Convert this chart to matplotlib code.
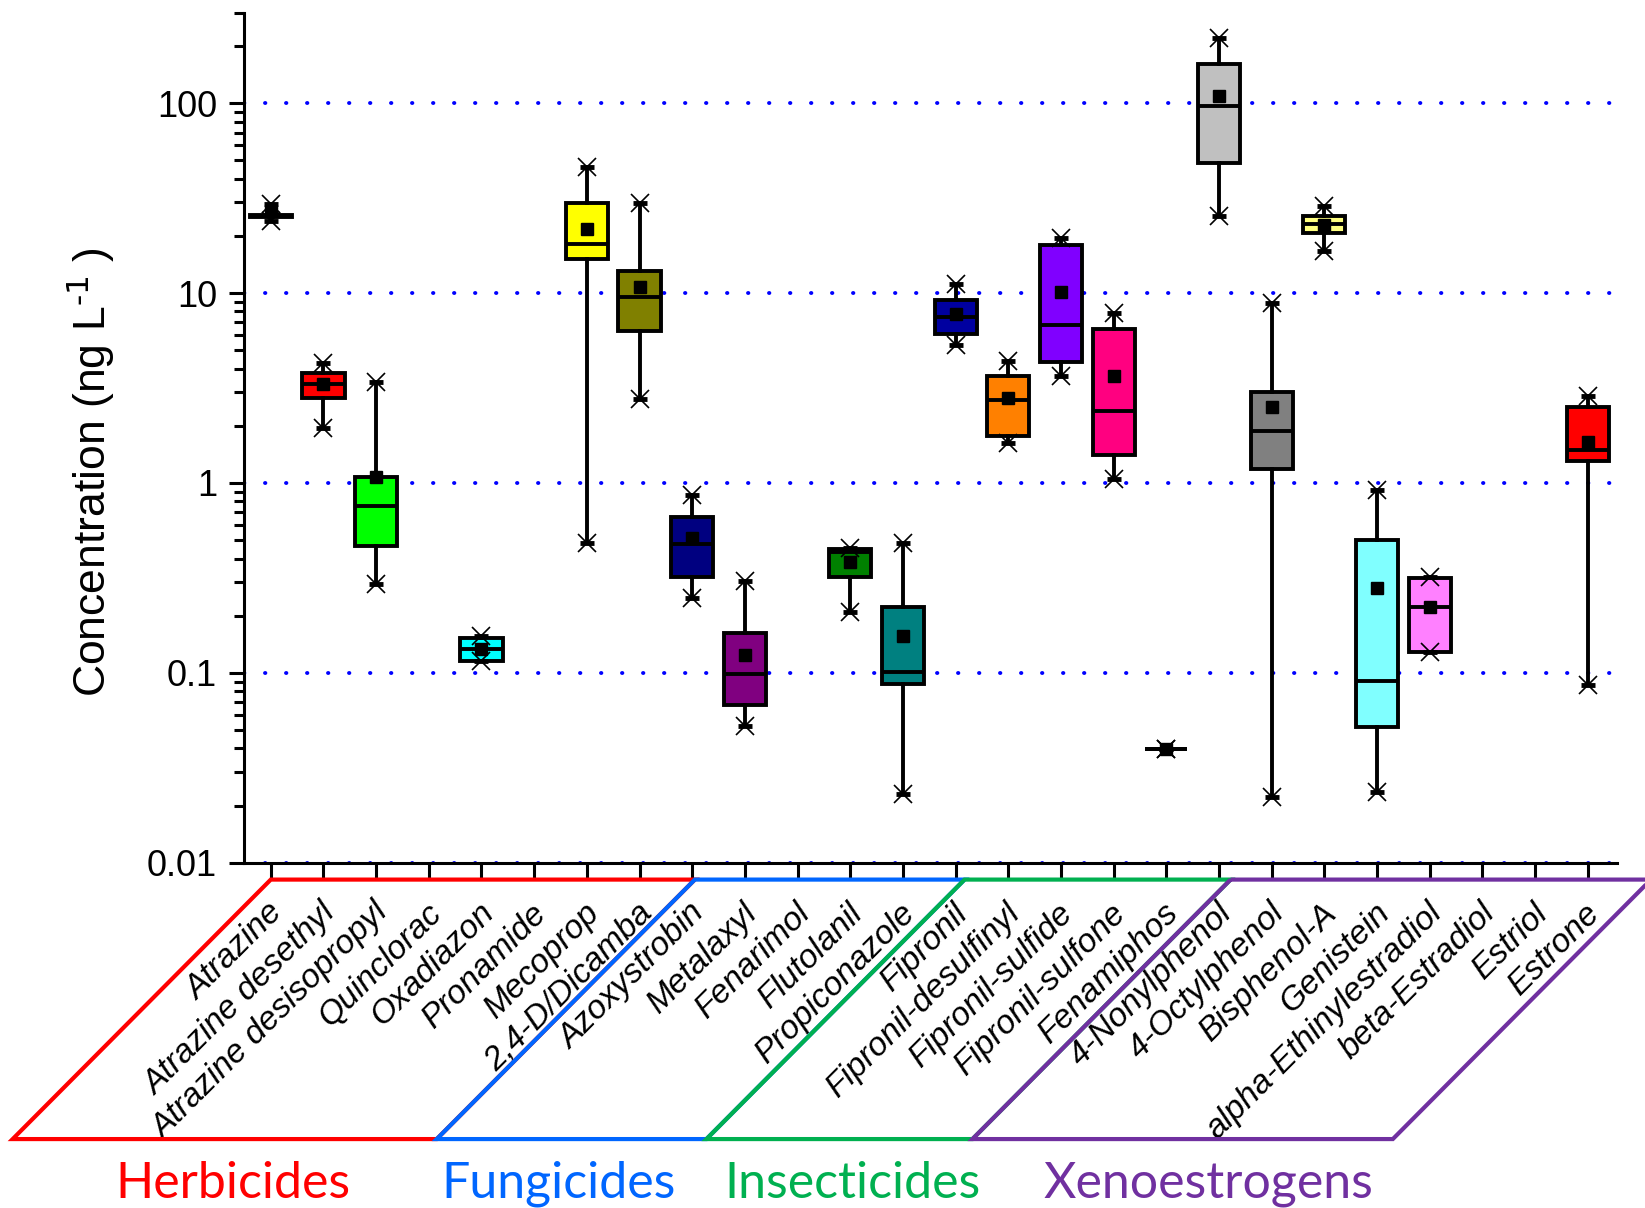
import numpy as np
import matplotlib.pyplot as plt
import matplotlib.transforms as mtransforms
from matplotlib.patches import Polygon
from matplotlib.ticker import FixedLocator, LogLocator, NullFormatter, FuncFormatter

plt.rcParams['font.family'] = ['Liberation Sans', 'DejaVu Sans']
plt.rcParams['mathtext.default'] = 'regular'

nan = np.nan

compounds = ['Atrazine', 'Atrazine desethyl', 'Atrazine desisopropyl', 'Quinclorac',
             'Oxadiazon', 'Pronamide', 'Mecoprop', '2,4-D/Dicamba', 'Azoxystrobin',
             'Metalaxyl', 'Fenarimol', 'Flutolanil', 'Propiconazole', 'Fipronil',
             'Fipronil-desulfinyl', 'Fipronil-sulfide', 'Fipronil-sulfone', 'Fenamiphos',
             '4-Nonylphenol', '4-Octylphenol', 'Bisphenol-A', 'Genistein',
             'alpha-Ethinylestradiol', 'beta-Estradiol', 'Estriol', 'Estrone']

# ng/L (nan = not detected)
c_min = [24.0, 1.95, 0.293, nan, 0.116, nan, 0.48, 2.76, 0.247, 0.0525, nan, 0.209, 0.023,
         5.33, 1.63, 3.64, 1.05, 0.0395, 25.4, 0.0222, 16.7, 0.0237, 0.128, nan, nan, 0.0865]
c_q1 = [25.0, 2.79, 0.465, nan, 0.116, nan, 15.1, 6.3, 0.32, 0.068, nan, 0.318, 0.087,
        6.08, 1.76, 4.33, 1.40, 0.0395, 48.3, 1.18, 20.8, 0.0521, 0.128, nan, nan, 1.31]
c_med = [25.4, 3.31, 0.757, nan, 0.133, nan, 18.2, 9.5, 0.475, 0.099, nan, 0.431, 0.101,
         7.5, 2.74, 6.79, 2.40, 0.0395, 96.9, 1.88, 23.1, 0.091, 0.223, nan, nan, 1.49]
c_q3 = [25.8, 3.80, 1.08, nan, 0.152, nan, 29.9, 13.1, 0.663, 0.163, nan, 0.447, 0.223,
        9.2, 3.67, 17.9, 6.5, 0.0395, 161.0, 3.03, 25.6, 0.499, 0.316, nan, nan, 2.5]
c_max = [29.5, 4.30, 3.40, nan, 0.157, nan, 46.3, 29.9, 0.86, 0.304, nan, 0.455, 0.482,
         11.2, 4.38, 19.6, 7.85, 0.0395, 220.0, 8.87, 28.6, 0.916, 0.318, nan, nan, 2.86]
c_mean = [27.0, 3.30, 1.07, nan, 0.134, nan, 21.8, 10.7, 0.515, 0.124, nan, 0.382, 0.156,
          7.8, 2.80, 10.1, 3.67, 0.0395, 108.6, 2.50, 22.9, 0.279, 0.223, nan, nan, 1.64]
box_colors = ['#000000', '#FF0000', '#00FF00', 'none', '#00FFFF', 'none', '#FFFF00', '#808000',
              '#000080', '#800080', 'none', '#008000', '#008080', '#0000A0', '#FF8000',
              '#8000FF', '#FF0080', '#000000', '#C0C0C0', '#808080', '#FFFF80', '#80FFFF',
              '#FF80FF', 'none', 'none', '#FF0000']

groups = ['Herbicides', 'Fungicides', 'Insecticides', 'Xenoestrogens']
group_colors = ['#FF0000', '#0066FF', '#00B050', '#7030A0']

fig = plt.figure(figsize=(16.45, 12.08), dpi=100)
ax = fig.add_axes([0.1486, 0.2858, 0.8342, 0.7038])

positions = np.arange(1, len(compounds) + 1)

stats, pos, cols = [], [], []
for i in range(len(compounds)):
    if np.isnan(c_med[i]):
        continue
    stats.append(dict(whislo=c_min[i], q1=c_q1[i], med=c_med[i], q3=c_q3[i],
                      whishi=c_max[i], mean=c_mean[i], fliers=[]))
    pos.append(positions[i])
    cols.append(box_colors[i])

bp = ax.bxp(stats, positions=pos, widths=0.8, patch_artist=True, showmeans=True,
            showcaps=False, showfliers=False,
            boxprops=dict(linewidth=2.8, edgecolor='black'),
            medianprops=dict(color='black', linewidth=2.8),
            whiskerprops=dict(color='black', linewidth=2.8),
            meanprops=dict(marker='s', markerfacecolor='black', markeredgecolor='black',
                           markersize=8))
for patch, c in zip(bp['boxes'], cols):
    patch.set_facecolor(c)
for m in bp['means']:
    m.set_zorder(5)

lo = [s['whislo'] for s in stats]
hi = [s['whishi'] for s in stats]
for vals in (lo, hi):
    ax.plot(pos, vals, ls='none', marker='_', ms=10, mew=3.5, color='black', zorder=4)
    ax.plot(pos, vals, ls='none', marker='x', ms=13, mew=1.2, color='black', zorder=4)

ax.set_yscale('log')
ax.set_ylim(0.01, 300)
ax.set_xlim(0.5, 26.55)
ax.yaxis.set_major_locator(FixedLocator([0.01, 0.1, 1, 10, 100]))
ax.yaxis.set_major_formatter(FuncFormatter(lambda v, p: f'{v:g}'))
ax.yaxis.set_minor_locator(LogLocator(base=10, subs=range(2, 10), numticks=100))
ax.yaxis.set_minor_formatter(NullFormatter())

ax.set_axisbelow(True)
ax.grid(axis='y', which='major', color='blue', linestyle=(0, (0.1, 5.3)),
        linewidth=2.8, dash_capstyle='round')

for s in ['top', 'right']:
    ax.spines[s].set_visible(False)
for s in ['left', 'bottom']:
    ax.spines[s].set_linewidth(2.2)

ax.tick_params(axis='both', which='major', direction='out', length=10.8, width=2.2,
               labelsize=26)
ax.tick_params(axis='y', which='minor', direction='out', length=7, width=2.2)
ax.tick_params(axis='y', which='major', pad=9)
ax.tick_params(axis='x', pad=22)

ax.set_xticks(positions)
ax.set_xticklabels(compounds, rotation=45, ha='right', va='center',
                   rotation_mode='anchor', fontstyle='italic', fontsize=24)
shift_right = mtransforms.ScaledTranslation(8 / 100, 0, fig.dpi_scale_trans)
for lab in ax.get_xticklabels():
    lab.set_transform(lab.get_transform() + shift_right)

ax.set_ylabel(r'Concentration (ng L$^{\text{-1}}$ )', fontsize=32)
ax.yaxis.set_label_coords(-0.093, 0.459)

blend = mtransforms.blended_transform_factory(ax.transData, ax.transAxes)
group_edges = [1.0, 9.05, 14.17, 19.22, 27.2]
shift = 4.9
y_top, y_bot = -0.0198, -0.325
for k, (g, c) in enumerate(zip(groups, group_colors)):
    a, b = group_edges[k], group_edges[k + 1]
    poly = Polygon([(a, y_top), (b, y_top), (b - shift, y_bot), (a - shift, y_bot)],
                   closed=True, fill=False, edgecolor=c, linewidth=3,
                   transform=blend, clip_on=False, joinstyle='miter')
    fig.add_artist(poly)

label_x = [0.28, 6.47, 12.05, 18.8]
for g, c, x in zip(groups, group_colors, label_x):
    ax.text(x, -0.378, g, transform=blend, ha='center', va='center',
            fontsize=36, family='Lato', color=c, clip_on=False)

fig.savefig('out.png', dpi=100)
